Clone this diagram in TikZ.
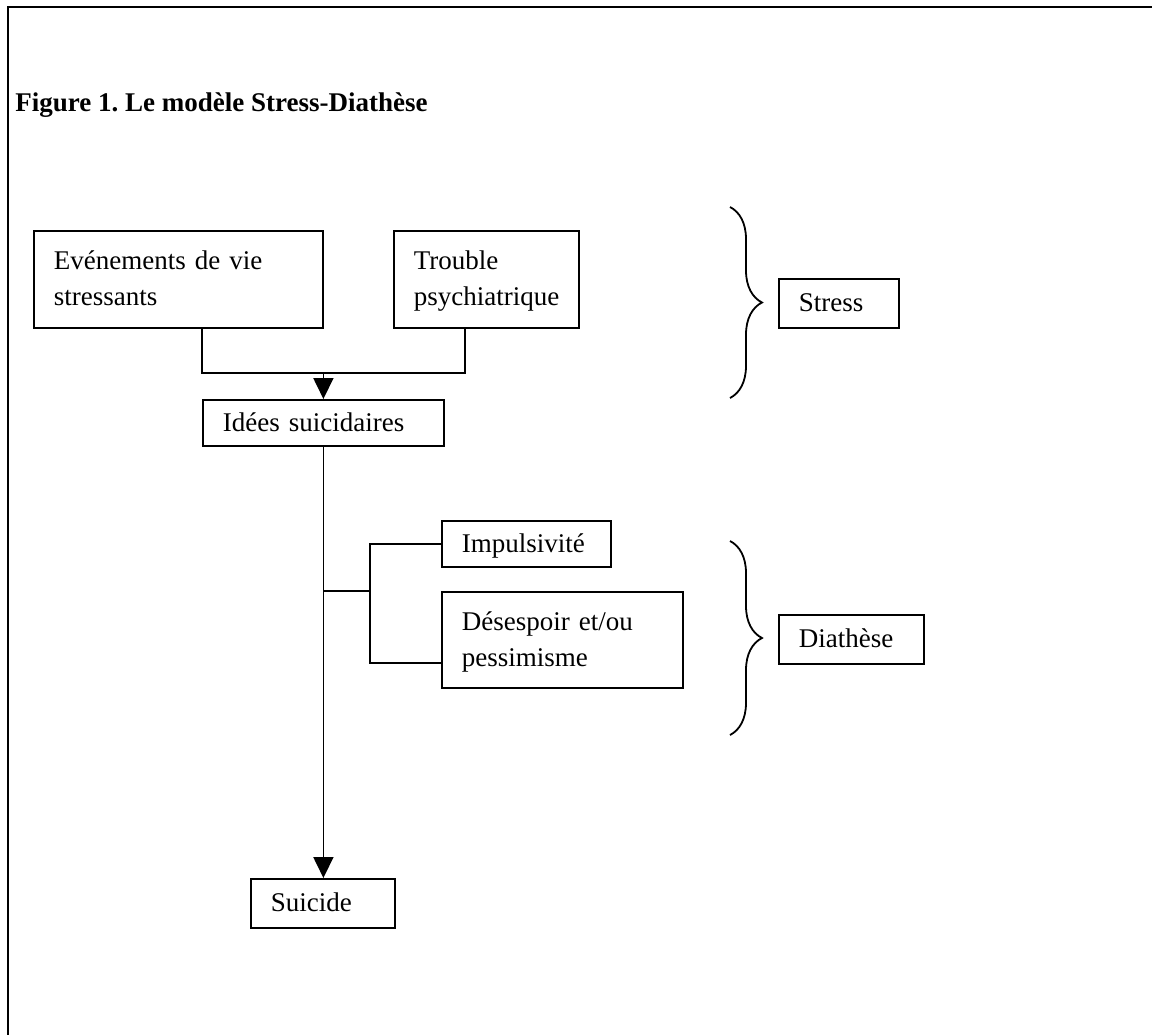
\documentclass[tikz,border=0pt]{standalone}
\usepackage{fontspec}
\setmainfont{Liberation Serif}
\usetikzlibrary{arrows.meta,decorations.pathreplacing}

% étai pour aligner les lignes de texte des boites
\newcommand\etai{\rule[-3.5pt]{0pt}{15.5pt}}

\begin{document}
\begin{tikzpicture}[x=0.5pt, y=-0.5pt]

	\useasboundingbox (0,0) rectangle (1152,1035);

	\tikzset{
		texte/.style={font=\fontsize{13.5}{18}\selectfont},
		boite/.style={
				texte, draw=black, line width=0.9pt,
				anchor=north west, inner xsep=10pt, inner ysep=0pt,
				align=left,
				execute at begin node=\etai, execute at end node=\etai
			},
		lien/.style={line width=0.9pt},
		fleche/.style={line width=0.9pt, -{Triangle[width=10pt, length=10.5pt]}},
		accolade/.style={
				line width=0.9pt, decorate,
				decoration={brace, amplitude=16pt}
			}
	}

	% cadre (ouvert à droite et en bas)
	\draw[line width=1.4pt] (1152,7) -- (8,7) -- (8,1035);

	\node[texte, font=\fontsize{13.5}{18}\selectfont\bfseries, anchor=base west, inner sep=0pt]
	(titre) at (15,111) {Figure 1.\ Le modèle Stress-Diathèse};

	% boites
	\node[boite, text width=124.5pt, minimum height=48.5pt] (evenements) at (33,230)
	{Evénements de vie\\stressants};
	\node[boite, text width=72.5pt, minimum height=48.5pt] (trouble) at (393,230)
	{Trouble\\psychiatrique};
	\node[boite, text width=100.5pt, minimum height=23pt] (idees) at (202,399)
	{Idées suicidaires};
	\node[boite, text width=64.5pt, minimum height=23pt] (impuls) at (441,520)
	{Impulsivité};
	\node[boite, text width=100.5pt, minimum height=48pt] (desespoir) at (441,591)
	{Désespoir et/ou\\pessimisme};
	\node[boite, text width=52pt, minimum height=24.5pt] (suicide) at (250,878)
	{Suicide};
	\node[boite, text width=40pt, minimum height=24.5pt] (stress) at (778,278)
	{Stress};
	\node[boite, text width=52.5pt, minimum height=24.5pt] (diathese) at (778,614)
	{Diathèse};

	% liaisons
	\coordinate (j1) at (idees.north |- 0,373);
	\draw[lien] (idees.west |- evenements.south) |- (j1) -| (465,0 |- trouble.south);
	\draw[fleche] (j1) -- (idees.north);
	\draw[fleche] (idees.south) -- (idees.south |- suicide.north);

	\coordinate (j2) at (idees.south |- 0,591);
	\coordinate (j3) at (370,591);
	\draw[lien] (j2) -- (j3);
	\draw[lien] (impuls.west) -| (j3);
	\draw[lien] (j3) |- (desespoir.west |- 0,663);

	% accolades
	\draw[accolade] (730,207) -- (730,398);
	\draw[accolade] (730,541) -- (730,735);

\end{tikzpicture}
\end{document}
